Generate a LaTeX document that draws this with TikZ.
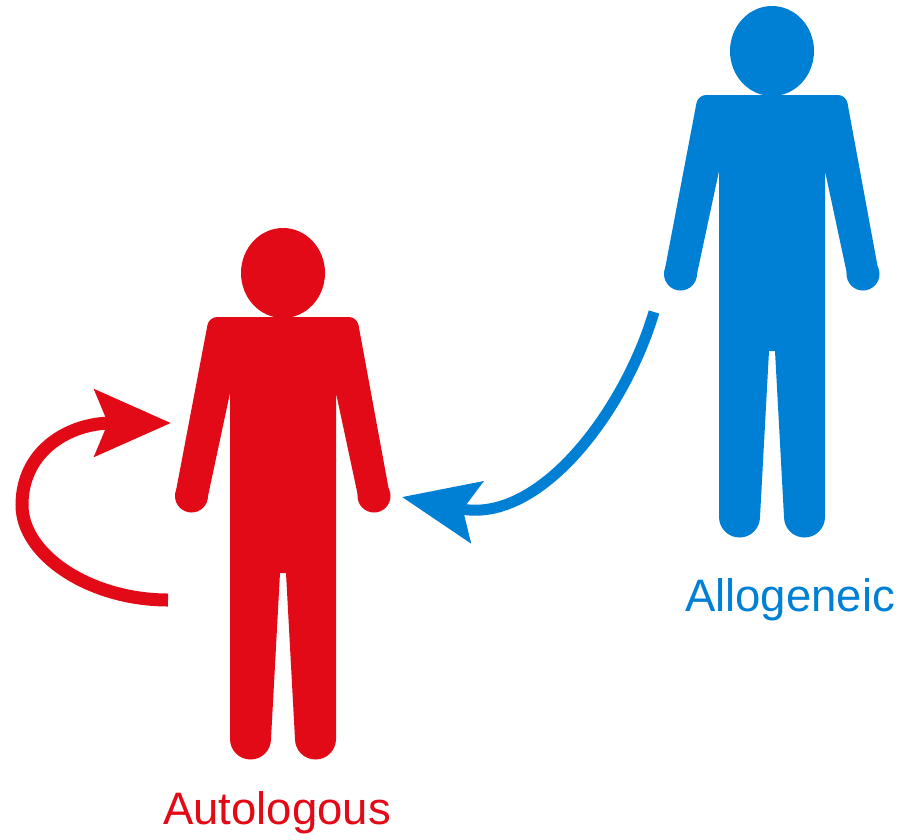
\documentclass[tikz,border=0pt]{standalone}
\usepackage{fontspec}
\setmainfont{Liberation Sans}
\usetikzlibrary{arrows.meta}
\definecolor{autored}{HTML}{E30A17}
\definecolor{alloblue}{HTML}{0080D5}
\begin{document}
\begin{tikzpicture}[x=1pt, y=-1pt,
        person/.pic={
            \fill (0,1) ellipse [x radius=42, y radius=45];
            \fill (0,45) [rounded corners=8pt] -- (74,45) [sharp corners] -- (107,224) -- (75,224) -- (53,121) -- (53,467) -- (12,467) -- (3,301)
                -- (-3,301) -- (-12,467) -- (-53,467) -- (-53,121) -- (-75,224) -- (-108,224) [rounded corners=8pt] -- (-74,45) [sharp corners] -- (0,45) -- cycle;
            \fill (91,224) circle [radius=16.5];
            \fill (-91.5,224) circle [radius=16.5];
            \fill (32.5,467) circle [radius=20.5];
            \fill (-32.5,467) circle [radius=20.5];
        },
        label/.style={font=\fontsize{45.5}{50}\selectfont, inner sep=0pt}]

    \useasboundingbox (0,0) rectangle (902,839);

    \pic[fill=autored]   at (283,272) {person};
    \pic[fill=alloblue]  at (772,50)  {person};

    \node[label, text=autored]  (autologous) at (277,813) {Autologous};
    \node[label, text=alloblue] (allogeneic) at (790,600) {Allogeneic};

    \coordinate (selfstart)  at (168,600);
    \coordinate (selfend)    at (171,423);
    \coordinate (donorstart) at (654,312);
    \coordinate (donorend)   at (402,497);

    \draw[autored, line width=13pt, -{Stealth[length=76pt, width=66pt, inset=13pt]}]
        (selfstart) .. controls (90,600) and (22,555) .. (22,505)
        .. controls (22,450) and (70,423) .. (selfend);
    \draw[alloblue, line width=11pt, -{Stealth[length=76pt, width=62pt, inset=14pt]}]
        (donorstart) .. controls (625,410) and (540,525) .. (donorend);

\end{tikzpicture}
\end{document}
